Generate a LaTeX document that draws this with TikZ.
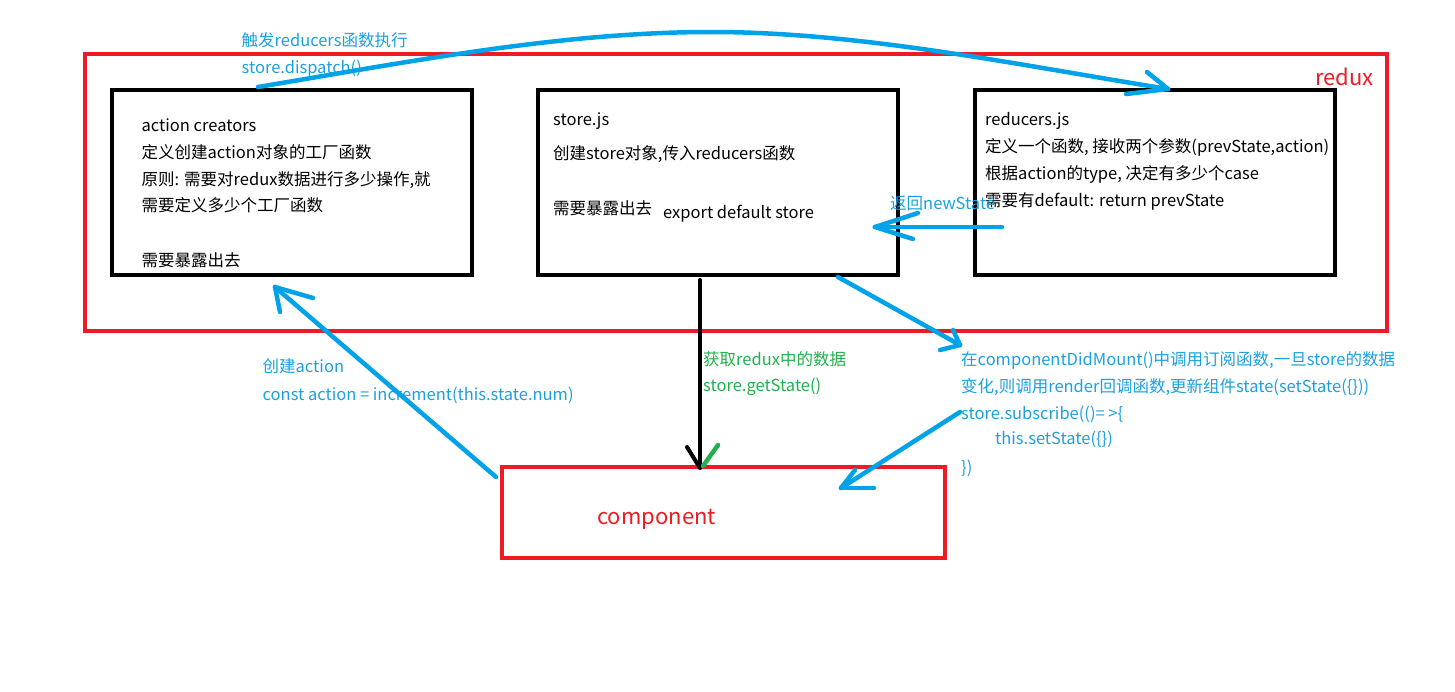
\documentclass[tikz,border=0pt]{standalone}
\usepackage{fontspec}
\setmainfont{Noto Sans CJK SC}
\definecolor{pblue}{HTML}{00A2E8}
\definecolor{tblue}{HTML}{1BA1E2}
\definecolor{pred}{HTML}{ED1C24}
\definecolor{pgreen}{HTML}{22B14C}
\begin{document}
\begin{tikzpicture}[x=1pt,y=-1pt,
  txt/.style={anchor=base west, inner sep=0pt, font=\fontsize{16.5}{20}\selectfont},
  blk/.style={txt, text=black},
  blu/.style={txt, text=tblue},
  grn/.style={txt, text=pgreen},
  bbox/.style={draw=black, line width=4pt, inner sep=0pt, minimum width=360pt, minimum height=185pt},
  rbox/.style={draw=pred, line width=4pt, inner sep=0pt},
  pen/.style={draw=pblue, line width=4.5pt, line cap=round, line join=round},
  kpen/.style={draw=black, line width=4pt, line cap=round},
  gpen/.style={draw=pgreen, line width=4.5pt, line cap=round}]
\useasboundingbox (0,0) rectangle (1455,691);
\fill[white] (0,0) rectangle (1455,691);

% boxes
\node[rbox, minimum width=1302pt, minimum height=277pt] (redux) at (736,192.5) {};
\node[anchor=base west, inner sep=0pt, text=pred, font=\fontsize{22}{24}\selectfont] (reduxlbl) at (1315,85) {redux};
\node[bbox] (ac) at (292,182.5) {};
\node[bbox] (st) at (718,182.5) {};
\node[bbox] (rd) at (1155,182.5) {};
\node[rbox, minimum width=443pt, minimum height=91pt] (comp) at (723.5,512.5) {};
\node[anchor=base west, inner sep=0pt, text=pred, font=\fontsize{22}{24}\selectfont] (complbl) at (597,524) {component};

% action creators text
\node[blk] (ac1) at (141.5,131) {action creators};
\node[blk] (ac2) at (141.5,158) {定义创建action对象的工厂函数};
\node[blk] (ac3) at (141.5,185.5) {原则: 需要对redux数据进行多少操作,就};
\node[blk] (ac4) at (141.5,211.5) {需要定义多少个工厂函数};
\node[blk] (ac5) at (141.5,266.5) {需要暴露出去};

% store text
\node[blk] (st1) at (553,125) {store.js};
\node[blk] (st2) at (553,159.5) {创建store对象,传入reducers函数};
\node[blk] (st3) at (553,214) {需要暴露出去};
\node[blk] (st4) at (663,218) {export default store};

% reducers text
\node[blk] (rd1) at (985,125) {reducers.js};
\node[blk] (rd2) at (985,152.5) {定义一个函数, 接收两个参数(prevState,action)};
\node[blk] (rd3) at (985,179) {根据action的type, 决定有多少个case};
\node[blk] (rd4) at (985,206) {需要有default: return prevState};

% blue labels
\node[blu] (dl1) at (241.5,46.5) {触发reducers函数执行};
\node[blu] (dl2) at (241.5,73) {store.dispatch()};
\node[blu] (nsl) at (890,209.5) {返回newState};
\node[blu] (ca1) at (262.5,372.5) {创建action};
\node[blu] (ca2) at (262.5,400) {const action = increment(this.state.num)};
\node[grn] (gs1) at (703,365) {获取redux中的数据};
\node[grn] (gs2) at (703,391.5) {store.getState()};
\node[blu] (sb1) at (961,365.5) {在componentDidMount()中调用订阅函数,一旦store的数据};
\node[blu] (sb2) at (961,392.5) {变化,则调用render回调函数,更新组件state(setState(\{\}))};
\node[blu] (sb3) at (961,419.5) {store.subscribe(()= >\{};
\node[blu] (sb4) at (995,444.5) {this.setState(\{\})};
\node[blu] (sb5) at (961,473.5) {\})};

% connector anchor points
\coordinate (dS) at (258,87);
\coordinate (dP) at (711,32);
\coordinate (dT) at (1168,89);
\coordinate (nS) at (1002,227);
\coordinate (nT) at (875,227);
\coordinate (sS) at (838,277);
\coordinate (sT) at (960,345);
\coordinate (uS) at (960,412);
\coordinate (uT) at (841,488);
\coordinate (cS) at (496,477);
\coordinate (cT) at (275,287);
\coordinate (gS) at (700,280);
\coordinate (gT) at (700,468);

% dispatch arc
\draw[pen] (dS) .. controls (408,62) and (561,32) .. (dP) .. controls (861,32) and (1018,65) .. (dT);
\draw[pen] (dT) -- ++(-21,-17);
\draw[pen] (dT) -- ++(-42,5);

% return newState
\draw[pen] (nS) -- (nT);
\draw[pen] (nT) -- ++(43,-14);
\draw[pen] (nT) -- ++(38,12);

% store -> subscribe text
\draw[pen] (sS) -- (sT);
\draw[pen] (sT) -- ++(-20,5);
\draw[pen] (sT) -- ++(-7,-15);

% subscribe -> component
\draw[pen] (uS) -- (uT);
\draw[pen] (uT) -- ++(33,0);
\draw[pen] (uT) -- ++(14,-18);

% create action
\draw[pen] (cS) -- (cT);
\draw[pen] (cT) -- ++(38,11);
\draw[pen] (cT) -- ++(5,25);

% getState
\draw[kpen] (gS) -- (gT);
\draw[kpen] (gT) -- ++(-13,-21);
\draw[gpen] (703,466) -- (718,445);
\end{tikzpicture}
\end{document}
